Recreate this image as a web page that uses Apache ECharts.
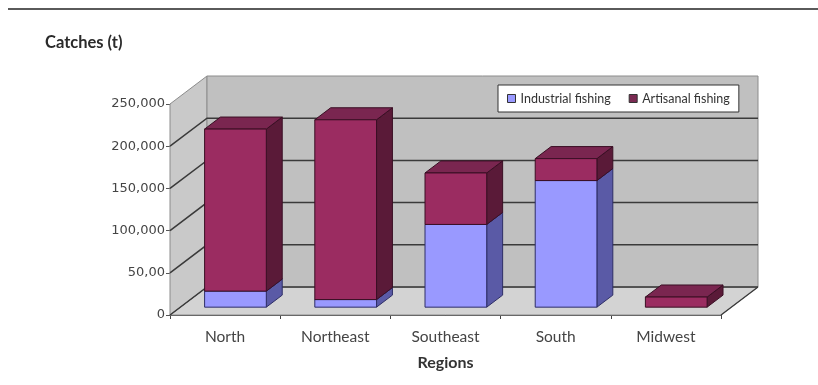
<!DOCTYPE html>
<html>
<head>
<meta charset="utf-8">
<script src="https://cdn.jsdelivr.net/npm/echarts@6/dist/echarts.min.js"></script>
<style>
  html, body { margin: 0; padding: 0; background: #ffffff; }
  #chart { width: 818px; height: 385px; }
</style>
</head>
<body>
<div id="chart"></div>
<script>
// Catches (t) per region, split by fishing type
const regions = ['North', 'Northeast', 'Southeast', 'South', 'Midwest'];
const industrialFishing = [19000, 9000, 98000, 150000, 0];
const artisanalFishing = [192000, 213000, 61000, 26000, 12000];
const yTickValues = [0, 50000, 100000, 150000, 200000, 250000];
const yTickLabels = ['0', '50,00', '100,000', '150,000', '200,000', '250,000'];

// Oblique projection: offset of the back wall relative to the front plane
const DEPTH = [37, -28];
const BAR_NEAR = 0.28;
const BAR_FAR = 0.71;
const BAR_WIDTH = 0.56;

function shift(p, f) {
  return [p[0] + DEPTH[0] * f, p[1] + DEPTH[1] * f];
}

// Floor, side wall, back wall and gridlines, all derived from the axes
function renderWalls(params, api) {
  const n = regions.length;
  const band = api.size([1, 0])[0];
  const xl = api.coord([0, 0])[0] - band / 2;
  const xr = api.coord([n - 1, 0])[0] + band / 2;
  const y0 = api.coord([0, 0])[1];
  const yTop = api.coord([0, yTickValues[yTickValues.length - 1]])[1];
  const fl = [xl, y0], fr = [xr, y0];
  const bl = shift(fl, 1), br = shift(fr, 1);
  const tl = [xl, yTop];
  const btl = shift(tl, 1), btr = shift([xr, yTop], 1);
  const children = [
    { type: 'polygon', shape: { points: [fl, fr, br, bl] },
      style: { fill: '#d3d3d3', stroke: '#8c8c8c', lineWidth: 1 } },
    { type: 'polygon', shape: { points: [fl, tl, btl, bl] },
      style: { fill: '#c9c9c9', stroke: '#8c8c8c', lineWidth: 1 } },
    { type: 'polygon', shape: { points: [bl, btl, btr, br] },
      style: { fill: '#c0c0c0', stroke: '#8c8c8c', lineWidth: 1 } }
  ];
  yTickValues.slice(0, -1).forEach(function (v) {
    const y = api.coord([0, v])[1];
    const a = [xl, y];
    const b = shift(a, 1);
    const c = shift([xr, y], 1);
    children.push({ type: 'polyline', shape: { points: [a, b, c] },
      style: { stroke: '#3a3a3a', lineWidth: 1.5, fill: null } });
  });
  children.push({ type: 'line', shape: { x1: fr[0], y1: fr[1], x2: br[0], y2: br[1] },
    style: { stroke: '#3a3a3a', lineWidth: 1.2 } });
  return { type: 'group', children: children };
}

// A shaded box between two stacked values of one category
function boxRenderer(colors) {
  return function (params, api) {
    const ci = api.value(0), lo = api.value(1), hi = api.value(2);
    if (!(hi > lo)) return null;
    const w = api.size([1, 0])[0] * BAR_WIDTH;
    const b = api.coord([ci, lo]);
    const t = api.coord([ci, hi]);
    const x0 = b[0] - w / 2, x1 = b[0] + w / 2;
    const fbl = shift([x0, b[1]], BAR_NEAR), fbr = shift([x1, b[1]], BAR_NEAR);
    const ftl = shift([x0, t[1]], BAR_NEAR), ftr = shift([x1, t[1]], BAR_NEAR);
    const bbr = shift([x1, b[1]], BAR_FAR);
    const btl = shift([x0, t[1]], BAR_FAR), btr = shift([x1, t[1]], BAR_FAR);
    const edge = { stroke: colors.edge, lineWidth: 1, lineJoin: 'round' };
    return { type: 'group', children: [
      { type: 'polygon', shape: { points: [fbr, ftr, btr, bbr] },
        style: Object.assign({ fill: colors.side }, edge) },
      { type: 'polygon', shape: { points: [ftl, ftr, btr, btl] },
        style: Object.assign({ fill: colors.top }, edge) },
      { type: 'polygon', shape: { points: [fbl, fbr, ftr, ftl] },
        style: Object.assign({ fill: colors.front }, edge) }
    ] };
  };
}

const industrialData = regions.map(function (r, i) {
  return [i, 0, industrialFishing[i]];
});
const artisanalData = regions.map(function (r, i) {
  return [i, industrialFishing[i], industrialFishing[i] + artisanalFishing[i]];
});

const chart = echarts.init(document.getElementById('chart'), null, { renderer: 'canvas' });
chart.setOption({
  animation: false,
  backgroundColor: '#ffffff',
  title: {
    text: 'Catches (t)',
    left: 40, top: 29,
    textStyle: { fontFamily: 'Lato', fontWeight: 'bold', fontSize: 16.5, color: '#2a2a2a' }
  },
  legend: {
    data: ['Industrial fishing', 'Artisanal fishing'],
    left: 498, top: 85,
    padding: [7, 9],
    itemGap: 18,
    itemWidth: 8, itemHeight: 8,
    icon: 'rect',
    backgroundColor: '#ffffff',
    borderColor: '#333333',
    borderWidth: 1,
    itemStyle: { borderColor: '#333333', borderWidth: 1 },
    textStyle: { fontFamily: 'Lato', fontSize: 12.5, color: '#333333' }
  },
  graphic: [
    { type: 'line', shape: { x1: 8, y1: 9, x2: 818, y2: 9 },
      style: { stroke: '#5a5a5a', lineWidth: 2 } }
  ],
  grid: { left: 170, right: 97, top: 104, bottom: 70 },
  xAxis: {
    type: 'category',
    data: regions,
    axisLine: { lineStyle: { color: '#444444', width: 1.2 } },
    axisTick: { show: true, length: 4, lineStyle: { color: '#444444' } },
    axisLabel: { margin: 14, fontFamily: 'Lato', fontSize: 15.5, color: '#444444' },
    name: 'Regions',
    nameLocation: 'middle',
    nameGap: 40,
    nameTextStyle: { fontFamily: 'Lato', fontWeight: 'bold', fontSize: 16, color: '#333333' }
  },
  yAxis: {
    type: 'value',
    min: 0, max: 250000, interval: 50000,
    splitLine: { show: false },
    axisLine: { show: true, lineStyle: { color: '#666666' } },
    axisTick: { show: true, length: 4, lineStyle: { color: '#555555' } },
    axisLabel: {
      margin: 5,
      fontFamily: 'DejaVu Sans', fontSize: 13, color: '#454545',
      padding: [5, 0, 0, 0],
      formatter: function (v) { return yTickLabels[yTickValues.indexOf(v)]; }
    }
  },
  series: [
    {
      type: 'custom', name: 'walls', z: 1, silent: true,
      data: [[0, 0]],
      encode: { x: 0, y: 1 },
      renderItem: renderWalls
    },
    {
      type: 'custom', name: 'Industrial fishing', z: 3,
      itemStyle: { color: '#9999ff' },
      data: industrialData,
      encode: { x: 0, y: [1, 2] },
      renderItem: boxRenderer({ front: '#9999ff', side: '#5a5aa6', top: '#7d7dd6', edge: '#2e2e66' })
    },
    {
      type: 'custom', name: 'Artisanal fishing', z: 3,
      itemStyle: { color: '#7a2a52' },
      data: artisanalData,
      encode: { x: 0, y: [1, 2] },
      renderItem: boxRenderer({ front: '#9b2c61', side: '#5a1a38', top: '#7a2650', edge: '#3a0f24' })
    }
  ]
});
</script>
</body>
</html>
